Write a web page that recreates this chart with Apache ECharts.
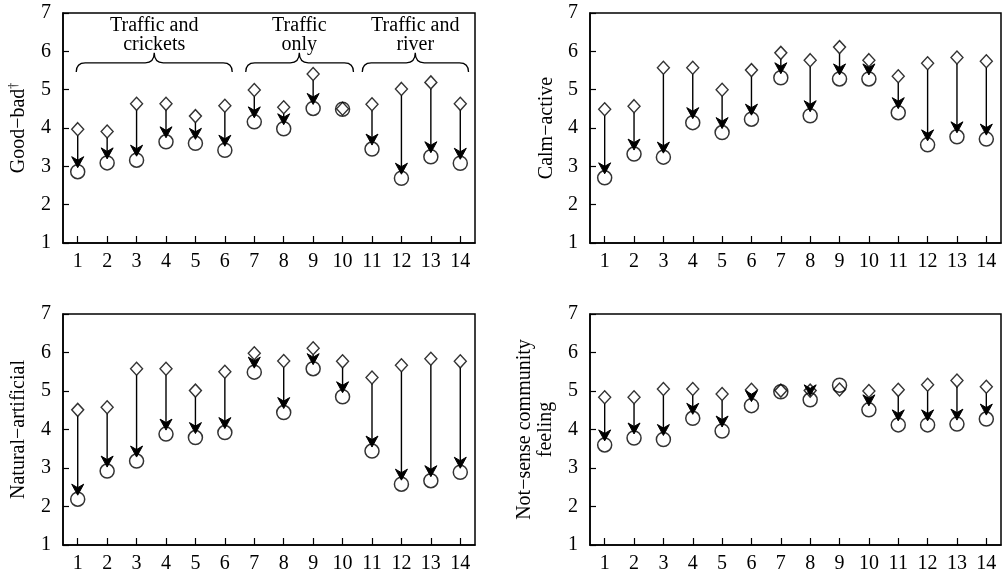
<!DOCTYPE html>
<html>
<head>
<meta charset="utf-8">
<script src="https://cdn.jsdelivr.net/npm/echarts@6/dist/echarts.min.js"></script>
<style>
html,body{margin:0;padding:0;background:#fff;}
#chart{width:1003px;height:578px;}
</style>
</head>
<body>
<div id="chart"></div>
<script>
// ---------- data ----------
const xTicks = [1,2,3,4,5,6,7,8,9,10,11,12,13,14];
const yTicks = [1,2,3,4,5,6,7];

const goodBadBefore = [3.97,3.91,4.63,4.63,4.31,4.58,4.99,4.54,5.41,4.50,4.62,5.02,5.19,4.63];
const goodBadAfter  = [2.86,3.09,3.16,3.64,3.60,3.42,4.16,3.98,4.51,4.49,3.45,2.69,3.25,3.08];

const calmBefore = [4.49,4.57,5.57,5.57,5.00,5.51,5.96,5.77,6.11,5.77,5.35,5.69,5.84,5.74];
const calmAfter  = [2.70,3.32,3.24,4.14,3.88,4.23,5.31,4.32,5.28,5.28,4.40,3.56,3.77,3.71];

const naturalBefore = [4.51,4.58,5.58,5.58,5.01,5.50,5.98,5.78,6.11,5.77,5.35,5.67,5.84,5.77];
const naturalAfter  = [2.19,2.92,3.18,3.88,3.79,3.92,5.49,4.44,5.58,4.85,3.44,2.58,2.67,2.89];

const communityBefore = [4.84,4.84,5.05,5.05,4.92,5.03,5.01,5.01,5.04,5.00,5.03,5.16,5.27,5.11];
const communityAfter  = [3.60,3.78,3.74,4.29,3.96,4.62,4.98,4.77,5.15,4.51,4.12,4.12,4.14,4.27];

const groupNames = ['Traffic and\ncrickets', 'Traffic\nonly', 'Traffic and\nriver'];
const groupFrom  = [0.95, 6.71, 10.67];
const groupTo    = [6.25, 10.37, 14.28];
const groupMid   = [3.60, 8.53, 12.47];

const panelTitles = ['Good\u2212bad{sup|\u2020}', 'Calm\u2212active', 'Natural\u2212artificial', 'Not\u2212sense community\nfeeling'];

// ---------- layout / style ----------
const FONT = '"Liberation Serif", "Times New Roman", serif';
const grids = [
  {left: 63,  top: 13,  width: 412, height: 230},
  {left: 590, top: 13,  width: 411, height: 230},
  {left: 63,  top: 314, width: 412, height: 231},
  {left: 590, top: 314, width: 411, height: 231}
];
const nameGaps = [34, 33, 34, 34];
const panels = [
  [goodBadBefore, goodBadAfter],
  [calmBefore, calmAfter],
  [naturalBefore, naturalAfter],
  [communityBefore, communityAfter]
];
// annotation placement (value units) for the brace group
const braceY = {end: 5.46, line: 5.70, peak: 5.96, label: 6.42};

function arrowItem(params, api) {
  const x = api.value(0), s = api.value(1), e = api.value(2);
  if (!(s - e > 0.1)) return {type: 'group', children: []};
  const p0 = api.coord([x, s]);
  const p1 = api.coord([x, e]);
  const tipY = p1[1] - 4;
  const cx = p0[0];
  const children = [];
  const stemTop = p0[1] + 6.5;
  const stemBot = tipY - 6;
  if (stemBot > stemTop) {
    children.push({type: 'line', shape: {x1: cx, y1: stemTop, x2: cx, y2: stemBot},
      style: {stroke: '#000', lineWidth: 1.4}});
  }
  children.push({type: 'polygon', shape: {points: [[cx, tipY], [cx - 6, tipY - 11], [cx, tipY - 7.5], [cx + 6, tipY - 11]]},
    style: {fill: '#000', stroke: '#000', lineWidth: 1, lineJoin: 'round'}});
  return {type: 'group', children};
}

function braceItem(params, api) {
  const i = params.dataIndex;
  const a = api.coord([groupFrom[i], braceY.end]);
  const b = api.coord([groupTo[i], braceY.end]);
  const m = api.coord([groupMid[i], braceY.peak]);
  const yl = api.coord([groupMid[i], braceY.line])[1];
  const r = 9;
  const x0 = a[0], x1 = b[0], xp = m[0], ye = a[1], yp = m[1];
  const d = 'M' + x0 + ',' + ye +
    ' Q' + x0 + ',' + yl + ' ' + (x0 + r) + ',' + yl +
    ' L' + (xp - r) + ',' + yl +
    ' Q' + xp + ',' + yl + ' ' + xp + ',' + yp +
    ' Q' + xp + ',' + yl + ' ' + (xp + r) + ',' + yl +
    ' L' + (x1 - r) + ',' + yl +
    ' Q' + x1 + ',' + yl + ' ' + x1 + ',' + ye;
  const lp = api.coord([groupMid[i], braceY.label]);
  return {type: 'group', children: [
    {type: 'path', shape: {pathData: d}, style: {fill: null, stroke: '#000', lineWidth: 1.3}},
    {type: 'text', x: lp[0], y: lp[1], style: {text: groupNames[i], font: '20px ' + FONT, fill: '#000',
      align: 'center', verticalAlign: 'middle', lineHeight: 19}}
  ]};
}

const option = {
  animation: false,
  backgroundColor: '#fff',
  grid: grids.map(g => Object.assign({show: true, borderColor: '#000', borderWidth: 1.5, backgroundColor: 'transparent'}, g)),
  xAxis: grids.map((g, k) => ({
    gridIndex: k, type: 'value', min: 0.5, max: 14.5,
    axisLine: {show: true, onZero: false, lineStyle: {color: '#000', width: 1.5}},
    axisTick: {show: true, inside: true, length: 7, customValues: xTicks, lineStyle: {color: '#000', width: 1.2}},
    axisLabel: {customValues: xTicks, fontSize: 20, fontFamily: FONT, color: '#000', margin: 9},
    splitLine: {show: false}
  })),
  yAxis: grids.map((g, k) => ({
    gridIndex: k, type: 'value', min: yTicks[0], max: yTicks[yTicks.length - 1], interval: 1,
    axisLine: {show: true, onZero: false, lineStyle: {color: '#000', width: 1.5}},
    axisTick: {show: true, inside: true, length: 6, lineStyle: {color: '#000', width: 1.2}},
    axisLabel: {fontSize: 20, fontFamily: FONT, color: '#000', margin: 12},
    splitLine: {show: false},
    name: panelTitles[k], nameLocation: 'middle', nameGap: nameGaps[k],
    nameTextStyle: {fontSize: 20, fontFamily: FONT, color: '#000', lineHeight: 21,
      rich: {sup: {fontSize: 12, fontFamily: FONT, color: '#000', padding: [0, 0, 9, 0]}}}
  })),
  series: []
};

panels.forEach((p, k) => {
  const before = p[0], after = p[1];
  option.series.push({
    type: 'custom', xAxisIndex: k, yAxisIndex: k, renderItem: arrowItem, silent: true,
    data: xTicks.map((x, i) => [x, before[i], after[i]])
  });
  option.series.push({
    type: 'scatter', xAxisIndex: k, yAxisIndex: k, symbol: 'diamond', symbolSize: [12, 13], silent: true,
    itemStyle: {color: 'rgba(0,0,0,0)', borderColor: '#000', borderWidth: 1.4},
    data: xTicks.map((x, i) => [x, before[i]])
  });
  option.series.push({
    type: 'scatter', xAxisIndex: k, yAxisIndex: k, symbol: 'circle', symbolSize: 14, silent: true,
    itemStyle: {color: 'rgba(0,0,0,0)', borderColor: '#000', borderWidth: 1.5},
    data: xTicks.map((x, i) => [x, after[i]])
  });
});

option.series.push({
  type: 'custom', xAxisIndex: 0, yAxisIndex: 0, renderItem: braceItem, silent: true, clip: false,
  data: groupNames.map((n, i) => [groupMid[i], braceY.peak])
});

const chart = echarts.init(document.getElementById('chart'), null, {renderer: 'canvas'});
chart.setOption(option);
</script>
</body>
</html>
